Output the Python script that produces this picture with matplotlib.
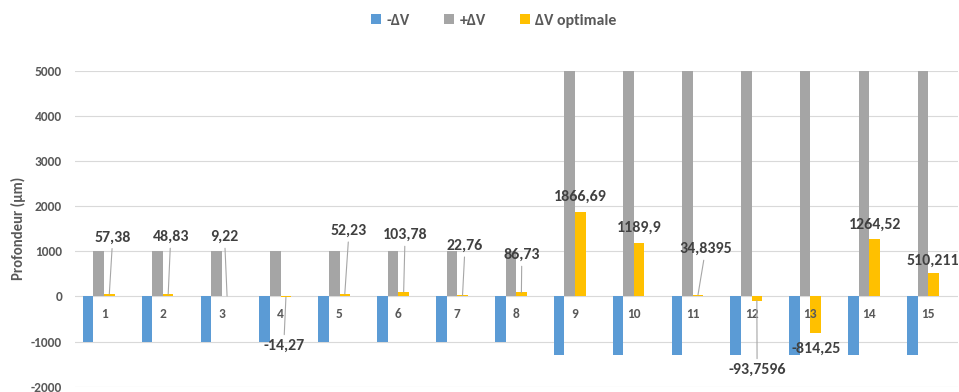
"""Profondeur par essai : -dV, +dV et dV optimale (barres groupées)."""

import matplotlib

matplotlib.use("Agg")
import matplotlib.pyplot as plt
import numpy as np

plt.rcParams["font.family"] = ["Carlito", "DejaVu Sans"]

# données
categories = [str(i) for i in range(1, 16)]
series_names = ["-ΔV", "+ΔV", "ΔV optimale"]
minus_dv = [-1000] * 8 + [-1300] * 7
plus_dv = [1000] * 8 + [5000] * 7
dv_opt = [57.38, 48.83, 9.22, -14.27, 52.23, 103.78, 22.76, 86.73,
          1866.69, 1189.9, 34.8395, -93.7596, -814.25, 1264.52, 510.211]
opt_labels = ["57,38", "48,83", "9,22", "-14,27", "52,23", "103,78", "22,76", "86,73",
              "1866,69", "1189,9", "34,8395", "-93,7596", "-814,25", "1264,52", "510,211"]
yticks = list(range(-2000, 5001, 1000))

# placement des étiquettes (décalage en x, position en y) et lignes d'appel
label_dx = [0.148, 0.133, 0.047, 0.053, 0.162, 0.114, 0.133, 0.097,
            0.099, 0.098, 0.219, 0.094, 0.097, 0.099, 0.084]
label_y = [1307, 1314, 1314, -1094, 1453, 1358, 1121, 915,
           2200, 1513, 1048, -1626, -1167, 1580, 789]
leader = [True] * 8 + [False, False, True, True, False, False, False]

colors = ["#5b9bd5", "#a5a5a5", "#ffc000"]
txt = "#595959"
lbl = "#404040"

fig = plt.figure(figsize=(9.59, 3.92), dpi=100)
ax = fig.add_axes([74.6 / 959, 1 - 386.7 / 392, 883 / 959, 316 / 392])

x = np.arange(1, len(categories) + 1)
w = 0.18
bars = []
for k, (vals, c) in enumerate(zip([minus_dv, plus_dv, dv_opt], colors)):
    bars.append(ax.bar(x + (k - 1.5) * w, vals, width=w, color=c, zorder=2))

ax.set_xlim(0.5, len(categories) + 0.5)
ax.set_ylim(-2000, 5000)
ax.set_yticks(yticks)
ax.set_yticklabels([str(t) for t in yticks], fontsize=9.7, fontweight="bold", color=txt)
ax.set_xticks([])
ax.tick_params(axis="y", length=0, pad=9)
for s in ax.spines.values():
    s.set_visible(False)
ax.grid(axis="y", color="#d9d9d9", linewidth=0.8, zorder=0)
ax.set_ylabel("Profondeur (µm)", fontsize=10.6, fontweight="bold", color=txt, va="center")
ax.yaxis.set_label_coords(-56.6 / 883, 0.5 + 0.7 / 316)

# étiquettes de catégorie au niveau de l'axe 0
for xi, c in zip(x, categories):
    ax.annotate(c, (xi, 0), xytext=(0, -13), textcoords="offset points",
                ha="center", va="center", fontsize=9.6, fontweight="bold", color=txt)

# étiquettes de données de ΔV optimale
for xi, v, s, dx, ly, ld in zip(x, dv_opt, opt_labels, label_dx, label_y, leader):
    bx = xi + 0.5 * w
    props = dict(arrowstyle="-", color="#a6a6a6", lw=0.8, shrinkA=1, shrinkB=0) if ld else None
    ax.annotate(s, xy=(bx, v), xytext=(xi + dx, ly), textcoords="data",
                ha="center", va="center", fontsize=11.4, fontweight="bold", color=lbl,
                arrowprops=props, zorder=4)

leg = fig.legend([b[0] for b in bars], series_names, loc="center", bbox_to_anchor=(494 / 959, 1 - 21 / 392),
                 ncol=3, frameon=False, handlelength=0.6, handleheight=0.6, handletextpad=0.35,
                 columnspacing=2.2, prop={"weight": "bold", "size": 11.4})
for t in leg.get_texts():
    t.set_color(txt)

fig.savefig("out.png", dpi=100)
